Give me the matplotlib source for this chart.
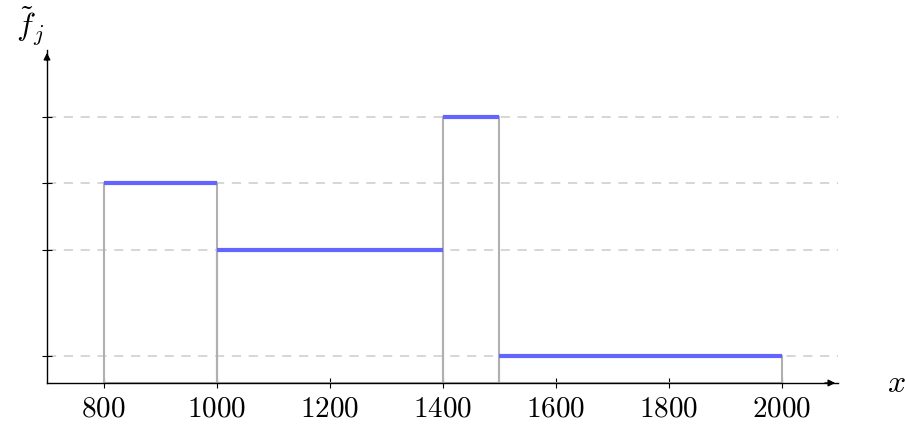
import matplotlib
matplotlib.use("Agg")
import matplotlib.pyplot as plt

plt.rcParams["mathtext.fontset"] = "cm"
plt.rcParams["font.family"] = "serif"

# class limits and densities of the histogram
edges = [800, 1000, 1400, 1500, 2000]
heights = [0.003, 0.002, 0.004, 0.0004]
xticks = [800, 1000, 1200, 1400, 1600, 1800, 2000]

lefts = edges[:-1]
rights = edges[1:]
widths = [r - l for l, r in zip(lefts, rights)]

fig = plt.figure(figsize=(9.05, 4.25), dpi=100)
ax = fig.add_axes([47 / 905, 42 / 425, (838 - 47) / 905, (383 - 50) / 425])

ax.set_xlim(700, 2100)
ax.set_ylim(0, 0.005)

# dashed guides at each density level
for h in heights:
    ax.axhline(h, color="#cccccc", lw=1.1, ls=(0, (6, 5)), zorder=1)

# bin outlines in grey, tops in blue
ax.bar(lefts, heights, widths, align="edge", fill=False,
       edgecolor="#b0b0b0", lw=1.5, zorder=2)
ax.hlines(heights, lefts, rights, color="#6464ff", lw=3, zorder=3)

ax.spines["top"].set_visible(False)
ax.spines["right"].set_visible(False)
ax.spines["left"].set_linewidth(1.0)
ax.spines["bottom"].set_linewidth(1.0)

ax.set_xticks(xticks)
ax.set_xticklabels([f"${t}$" for t in xticks], fontsize=21)
ax.set_yticks(heights)
ax.set_yticklabels([])
ax.tick_params(axis="x", direction="inout", length=7, width=0.8, pad=5)
ax.tick_params(axis="y", direction="inout", length=7, width=0.8)

# arrow heads on the axes
ax.annotate("", xy=(1.0, 0), xytext=(0.98, 0), xycoords="axes fraction",
            arrowprops=dict(arrowstyle="-|>", color="black", lw=1.0,
                            mutation_scale=10))
ax.annotate("", xy=(0, 1.0), xytext=(0, 0.96), xycoords="axes fraction",
            arrowprops=dict(arrowstyle="-|>", color="black", lw=1.0,
                            mutation_scale=10))

fig.text(896 / 905, 1 - 384 / 425, "$x$", fontsize=23, ha="center", va="center")
fig.text(30 / 905, 1 - 26 / 425, r"$\tilde{f}_j$", fontsize=23, ha="center", va="center")

fig.savefig("out.png", dpi=100)
